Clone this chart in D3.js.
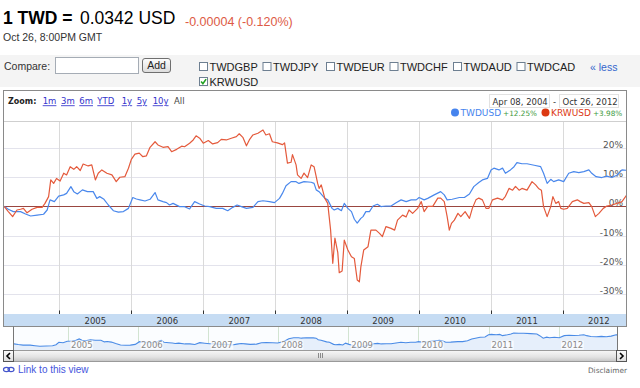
<!DOCTYPE html>
<html><head><meta charset="utf-8">
<script src="https://cdn.jsdelivr.net/npm/d3@7"></script>
<style>
html,body{margin:0;padding:0;background:#fff;}
svg{display:block;}
text{font-family:"Liberation Sans",Arial,sans-serif;}
.v{font-family:"DejaVu Sans",Verdana,sans-serif;}
</style></head><body>
<svg id="c" width="640" height="388"></svg>
<script>
// ---------- data ----------
const pairLabel = "1 TWD =";
const quoteLabel = "0.0342 USD";
const changeLabel = "-0.00004 (-0.120%)";
const asOfLabel = "Oct 26, 8:00PM GMT";
const compareList = ["TWDGBP","TWDJPY","TWDEUR","TWDCHF","TWDAUD","TWDCAD"];
const checkedList = ["KRWUSD"];
const zoomLinks = ["1m","3m","6m","YTD","1y","5y","10y"];
const dateFrom = "Apr 08, 2004", dateTo = "Oct 26, 2012";
const seriesNames = ["TWDUSD","KRWUSD"];
const seriesChange = ["+12.25%","+3.98%"];
const yearTicks = [2005,2006,2007,2008,2009,2010,2011,2012];
const pctTicks = [-30,-20,-10,0,10,20];
const xDomain = [2004.23, 2012.89];

const twdT = [2004.23,2004.29,2004.36,2004.46,2004.53,2004.60,2004.69,2004.78,2004.83,2004.87,2004.93,2004.99,2005.06,2005.10,2005.16,2005.20,2005.25,2005.32,2005.39,2005.47,2005.52,2005.56,2005.62,2005.68,2005.75,2005.82,2005.89,2005.96,2006.02,2006.07,2006.12,2006.19,2006.26,2006.33,2006.37,2006.44,2006.49,2006.53,2006.58,2006.67,2006.74,2006.81,2006.88,2006.95,2007.02,2007.09,2007.18,2007.27,2007.34,2007.41,2007.47,2007.53,2007.60,2007.69,2007.76,2007.83,2007.92,2007.99,2008.06,2008.10,2008.15,2008.22,2008.29,2008.33,2008.40,2008.50,2008.54,2008.57,2008.61,
2008.69,2008.73,2008.79,2008.82,2008.87,2008.92,2008.96,2009.01,2009.06,2009.10,2009.14,2009.19,2009.22,2009.26,2009.31,2009.36,2009.42,2009.47,2009.54,2009.61,2009.68,2009.75,2009.82,2009.89,2009.96,2010.00,2010.07,2010.12,2010.21,2010.30,2010.35,2010.39,2010.46,2010.56,2010.63,2010.70,2010.76,2010.83,2010.88,2010.95,2011.00,2011.04,2011.11,2011.16,2011.20,2011.27,2011.32,2011.36,2011.43,2011.50,2011.60,2011.69,2011.73,2011.78,2011.83,2011.87,2011.94,2012.01,2012.08,2012.15,2012.22,2012.29,2012.36,2012.40,2012.46,2012.54,2012.61,2012.68,2012.75,2012.82,2012.89];
const twdV = [0,-1.0,-1.8,-1.8,-2.6,-3.3,-3.0,-2.7,-1.25,2.2,1.6,3.5,3.9,4.4,6.7,5.0,4.2,5.6,5.0,5.0,2.7,3.3,2.4,0.45,-1.5,-2.0,-1.8,-0.7,3.0,2.5,2.2,1.8,2.4,4.7,2.2,1.6,1.25,0.45,1.0,-0.1,-0.1,-0.9,1.6,0.8,0.1,-0.1,-0.7,-0.7,-1.5,-0.35,0.45,-0.1,-0.7,-0.35,1.6,1.9,1.6,1.25,2.7,4.4,7.0,8.4,8.4,7.8,8.4,8.2,7.8,5.6,5.0,
2.7,2.2,-0.7,-1.25,-0.7,-1.5,1.0,-0.7,-1.8,-4.4,-5.7,-4.1,-3.5,-1.8,-1.8,0.1,0.7,-0.1,0.1,0.1,1.25,2.2,1.6,2.2,2.2,3.0,2.2,2.7,3.9,5.0,3.9,2.2,2.4,3.0,3.0,4.2,6.7,8.1,9.0,9.5,12.4,13.0,12.4,13.0,11.25,12.4,13.5,14.9,14.5,14.5,14.0,13.5,11.25,7.8,9.2,8.4,9.0,8.4,11.25,11.8,11.5,11.8,12.4,11.25,10.1,9.8,10.3,9.8,10.6,12.4,12.25];

const krwT = [2004.23,2004.29,2004.35,2004.41,2004.46,2004.50,2004.55,2004.62,2004.69,2004.76,2004.80,2004.85,2004.88,2004.92,2004.96,2005.01,2005.06,2005.10,2005.15,2005.20,2005.24,2005.29,2005.33,2005.40,2005.45,2005.50,2005.54,2005.59,2005.66,2005.73,2005.79,2005.84,2005.91,2005.96,2006.00,2006.05,2006.11,2006.16,2006.21,2006.26,2006.33,2006.37,2006.44,2006.51,2006.56,2006.63,2006.70,2006.74,2006.81,2006.86,2006.90,2006.95,2007.00,2007.07,2007.13,2007.20,2007.25,2007.32,2007.39,2007.46,2007.50,2007.55,2007.60,2007.64,2007.69,2007.76,2007.83,2007.87,2007.92,2007.96,2008.03,2008.10,2008.13,2008.17,2008.22,2008.24,2008.29,2008.31,2008.36,2008.40,2008.45,2008.50,2008.54,2008.59,2008.61,
2008.64,2008.69,2008.73,2008.77,2008.80,2008.83,2008.87,2008.89,2008.93,2008.96,2009.01,2009.06,2009.10,2009.14,2009.17,2009.19,2009.23,2009.29,2009.33,2009.40,2009.45,2009.49,2009.54,2009.61,2009.66,2009.70,2009.77,2009.82,2009.86,2009.91,2009.98,2010.03,2010.07,2010.12,2010.19,2010.26,2010.30,2010.35,2010.39,2010.42,2010.45,2010.49,2010.54,2010.58,2010.64,2010.70,2010.74,2010.79,2010.83,2010.88,2010.93,2010.97,2011.02,2011.09,2011.16,2011.20,2011.25,2011.30,2011.34,2011.39,2011.43,2011.50,2011.57,2011.62,2011.66,2011.70,2011.73,2011.78,2011.83,2011.86,2011.90,2011.94,2011.97,2012.01,2012.06,2012.13,2012.20,2012.24,2012.29,2012.36,2012.40,2012.45,2012.50,2012.56,2012.61,2012.68,2012.75,2012.82,2012.89];
const krwV = [0,-1.8,-3.5,-1.25,-1.0,-0.7,-2.2,-1.0,-0.35,-0.35,1.0,3.3,9.0,7.8,9.5,8.6,11.3,10.7,13.5,12.6,13.5,12.2,14.4,13.75,14.1,9.0,11.25,12.4,11.25,10.7,8.4,9.9,10.1,12.95,16.0,17.8,18.1,16.9,17.2,20.1,22.0,20.9,20.1,20.3,18.6,19.4,20.5,20.3,21.5,22.6,24.0,23.2,21.5,22.4,21.25,21.7,22.8,22.6,23.2,23.75,24.7,23.5,20.6,22.6,24.3,24.9,26.0,24.3,24.7,22.0,21.6,21.0,21.6,14.7,15.0,17.6,14.1,10.7,9.5,11.3,9.8,14.1,13.5,7.8,6.1,
7.3,2.7,1.0,-8.1,-19.4,-10.8,-15.8,-22.6,-22.0,-11.5,-14.9,-17.2,-17.8,-25.1,-25.7,-20.7,-14.9,-13.75,-8.1,-8.1,-9.2,-10.3,-6.9,-7.5,-8.1,-4.7,-3.0,-3.6,-1.25,-2.4,-0.7,1.6,-1.8,0.0,0.0,2.8,2.8,1.6,-3.5,-8.1,-5.8,-4.7,-2.4,-3.5,-1.8,-4.1,-0.7,2.2,2.8,2.2,-0.7,-0.7,2.2,2.8,2.2,3.4,6.1,5.5,6.8,5.5,6.1,5.5,8.4,7.3,6.1,5.5,-0.1,-3.5,-0.1,3.3,1.0,1.6,-0.7,-1.0,-0.7,1.6,2.2,1.6,1.0,1.25,-0.1,-3.5,-2.4,-0.7,0.1,0.45,1.0,1.6,3.98];

const seriesColors = ["#4684ee","#dc3912"];
const lineColors = ["#4a88ec","#e45a3c"];

// ---------- drawing ----------
const svg = d3.select("#c");
const zip = (T,V) => d3.range(Math.min(T.length,V.length)).map(i => [T[i], V[i]]);
const twd = zip(twdT, twdV), krw = zip(krwT, krwV);

const defs = svg.append("defs");
const g1 = defs.append("linearGradient").attr("id","btn").attr("x1",0).attr("y1",0).attr("x2",0).attr("y2",1);
g1.append("stop").attr("offset","0%").attr("stop-color","#fdfdfd");
g1.append("stop").attr("offset","100%").attr("stop-color","#dcdcdc");
const g2 = defs.append("linearGradient").attr("id","scr").attr("x1",0).attr("y1",0).attr("x2",0).attr("y2",1);
g2.append("stop").attr("offset","0%").attr("stop-color","#f7f7f7");
g2.append("stop").attr("offset","60%").attr("stop-color","#e2e2e2");
g2.append("stop").attr("offset","100%").attr("stop-color","#c4c4c4");
defs.append("clipPath").attr("id","plotClip").append("rect").attr("x",4).attr("y",122).attr("width",622).attr("height",192);
defs.append("clipPath").attr("id","navClip").append("rect").attr("x",14).attr("y",327).attr("width",603).attr("height",23);

// Header
const h = svg.append("text").attr("x",3).attr("y",23.5).attr("font-size",17.5).attr("fill","#000");
h.append("tspan").attr("font-weight","bold").text(pairLabel);
svg.append("text").attr("x",80).attr("y",23.5).attr("font-size",17.5).attr("fill","#000").text(quoteLabel);
svg.append("text").attr("x",185).attr("y",26).attr("font-size",12.5).attr("fill","#dd5a45").text(changeLabel);
svg.append("text").attr("x",3).attr("y",41).attr("font-size",10.5).attr("fill","#333").text(asOfLabel);

// Compare bar
svg.append("rect").attr("x",0).attr("y",55).attr("width",640).attr("height",32).attr("fill","#f4f4f4");
svg.append("text").attr("x",4).attr("y",69.5).attr("font-size",10.5).attr("fill","#333").text("Compare:");
svg.append("rect").attr("x",55.5).attr("y",57.5).attr("width",83).attr("height",16).attr("fill","#fff").attr("stroke","#a5acb5");
svg.append("rect").attr("x",142.5).attr("y",58.5).attr("width",28).attr("height",14).attr("rx",2.5).attr("fill","url(#btn)").attr("stroke","#6f6f6f");
svg.append("text").attr("x",156.5).attr("y",69.3).attr("font-size",10.5).attr("text-anchor","middle").attr("fill","#222").text("Add");

const cb = svg.append("g");
const allCb = compareList.map((n,i)=>({n, x:199.5 + i*63.5, y:62.5, c:false}))
  .concat(checkedList.map((n,i)=>({n, x:199.5 + i*63.5, y:77.5, c:true})));
allCb.forEach(d=>{
  cb.append("rect").attr("x",d.x).attr("y",d.y).attr("width",8).attr("height",8).attr("fill","#fff").attr("stroke","#6d7f91");
  if(d.c) cb.append("path").attr("d",`M${d.x+1.6},${d.y+4} L${d.x+3.4},${d.y+6.2} L${d.x+6.6},${d.y+1.6}`).attr("fill","none").attr("stroke","#21a121").attr("stroke-width",1.6);
  cb.append("text").attr("x",d.x+10).attr("y",d.y+8).attr("font-size",11).attr("fill","#222").text(d.n);
});
svg.append("text").attr("x",590).attr("y",70.5).attr("font-size",10.5).attr("fill","#3366cc").text("\u00ab less");

// Chart frame
svg.append("rect").attr("x",3.5).attr("y",90.5).attr("width",623).attr("height",236).attr("fill","#fff");
// zoom row
svg.append("text").attr("class","v").attr("x",8).attr("y",104.3).attr("font-size",8).attr("font-weight","bold").attr("fill","#222").text("Zoom:");
const zoomX = [42.7,61,79.3,97.3,121.7,136.7,152.7];
zoomLinks.forEach((z,i)=>{
  svg.append("text").attr("class","v").attr("x",zoomX[i]).attr("y",104.3).attr("font-size",8.5).attr("fill","#3333cc").attr("text-decoration","underline").text(z);
});
svg.append("text").attr("class","v").attr("x",174).attr("y",104.3).attr("font-size",8.5).attr("fill","#444").text("All");

// date range boxes
[[dateFrom,489.5,60],[dateTo,559.5,59]].forEach(([t,x,w])=>{
  svg.append("rect").attr("x",x).attr("y",94.5).attr("width",w).attr("height",13).attr("fill","#fff").attr("stroke","#e2e2e2");
  svg.append("text").attr("class","v").attr("x",x+3).attr("y",104.5).attr("font-size",8.5).attr("fill","#333").text(t);
});
svg.append("text").attr("class","v").attr("x",554.5).attr("y",104.5).attr("font-size",8.5).attr("text-anchor","middle").attr("fill","#333").text("-");

// legend
let lx = 455;
seriesNames.forEach((n,i)=>{
  svg.append("circle").attr("cx",lx).attr("cy",112.5).attr("r",4).attr("fill",seriesColors[i]);
  const t = svg.append("text").attr("class","v").attr("x",lx+5.5).attr("y",116.3).attr("font-size",9).attr("fill",seriesColors[i]).text(n);
  const w = t.node().getComputedTextLength();
  const c = svg.append("text").attr("class","v").attr("x",lx+5.5+w+2).attr("y",116.3).attr("font-size",7.3).attr("fill","#3c9a3c").text(seriesChange[i]);
  const w2 = c.node().getComputedTextLength();
  lx = lx + 5.5 + w + 2 + w2 + 8.5;
});

// plot
const x = d3.scaleLinear().domain(xDomain).range([4, 627]);
const y = d3.scaleLinear().domain([-30, 20]).range([294.4, 147.6]);

svg.append("line").attr("x1",4).attr("x2",626).attr("y1",121.5).attr("y2",121.5).attr("stroke","#cfcfcf");
const grid = svg.append("g");
grid.selectAll("line.h").data(pctTicks.filter(d=>d!==0)).join("line")
  .attr("x1",4).attr("x2",626).attr("y1",d=>Math.round(y(d))+0.5).attr("y2",d=>Math.round(y(d))+0.5)
  .attr("stroke","#e3e3ec");
grid.selectAll("line.v").data(yearTicks).join("line")
  .attr("x1",d=>Math.round(x(d))+0.5).attr("x2",d=>Math.round(x(d))+0.5).attr("y1",122).attr("y2",314)
  .attr("stroke","#dadada");

// right axis labels
const ax = svg.append("g").attr("transform","translate(623,0)")
  .call(d3.axisLeft(y).tickValues(pctTicks).tickSize(0).tickPadding(0).tickFormat(d=>d+"%"));
ax.select(".domain").remove();
ax.selectAll("text").attr("class","v").attr("font-size",9).attr("fill","#555").attr("dy","-0.5").attr("font-family",null);

// zero line
svg.append("line").attr("x1",4).attr("x2",626).attr("y1",Math.round(y(0))+0.5).attr("y2",Math.round(y(0))+0.5).attr("stroke","#9a4640").attr("stroke-width",1);

const line = d3.line().x(d=>x(d[0])).y(d=>y(d[1]));
const pg = svg.append("g").attr("clip-path","url(#plotClip)");
pg.append("path").datum(twd).attr("d",line).attr("fill","none").attr("stroke",lineColors[0]).attr("stroke-width",1.2).attr("stroke-linejoin","round");
pg.append("path").datum(krw).attr("d",line).attr("fill","none").attr("stroke",lineColors[1]).attr("stroke-width",1.2).attr("stroke-linejoin","round");

// bottom band with year labels
svg.append("rect").attr("x",4).attr("y",314).attr("width",622).attr("height",12).attr("fill","#c6dcf3");
svg.append("g").selectAll("line").data(yearTicks).join("line")
  .attr("x1",d=>Math.round(x(d))+0.5).attr("x2",d=>Math.round(x(d))+0.5).attr("y1",310.5).attr("y2",314)
  .attr("stroke","#333");
svg.append("g").selectAll("text").data(yearTicks).join("text").attr("class","v")
  .attr("x",d=>x(d+0.5)).attr("y",323.5).attr("text-anchor","middle").attr("font-size",8.5).attr("fill","#333").text(d=>d);

// frame border
svg.append("rect").attr("x",3.5).attr("y",90.5).attr("width",623).attr("height",236).attr("fill","none").attr("stroke","#8a8a8a");

// navigator
const xn = d3.scaleLinear().domain(xDomain).range([14, 621]);
const yn = d3.scaleLinear().domain([-5.7, 14.9]).range([348, 333]);
svg.append("rect").attr("x",14).attr("y",327).attr("width",603).attr("height",23).attr("fill","#fbfdff");
const ng = svg.append("g").attr("clip-path","url(#navClip)");
ng.selectAll("line.g").data(yearTicks).join("line")
  .attr("x1",d=>Math.round(xn(d))+0.5).attr("x2",d=>Math.round(xn(d))+0.5).attr("y1",327).attr("y2",350)
  .attr("stroke","#d2e4d2");
const quarters = d3.range(xDomain[0], xDomain[1], 0.25).map(v=>Math.ceil(v*4)/4).filter(v=>v%1!==0);
ng.selectAll("line.q").data(quarters).join("line")
  .attr("x1",d=>Math.round(xn(d))+0.5).attr("x2",d=>Math.round(xn(d))+0.5).attr("y1",346.5).attr("y2",350)
  .attr("stroke","#c8c8c8");
ng.append("path").datum(twd).attr("d",d3.area().x(d=>xn(d[0])).y0(350).y1(d=>yn(d[1]))).attr("fill","#e6effb");
ng.append("path").datum(twd).attr("d",d3.line().x(d=>xn(d[0])).y(d=>yn(d[1]))).attr("fill","none").attr("stroke","#4a8be6").attr("stroke-width",1.1);
yearTicks.forEach(yv=>{
  const t = ng.append("text").attr("class","v").attr("x",xn(yv)+3).attr("y",347.6).attr("font-size",8.5).attr("fill","#8a8a8a").text(yv);
  const bb = t.node().getBBox();
  ng.insert("rect","text").attr("x",bb.x-0.5).attr("y",bb.y+1).attr("width",bb.width+1).attr("height",bb.height-1).attr("fill","#fff").attr("opacity",0.75);
});
svg.append("line").attr("x1",13.5).attr("x2",13.5).attr("y1",326.5).attr("y2",350).attr("stroke","#777");
svg.append("line").attr("x1",617.5).attr("x2",617.5).attr("y1",326.5).attr("y2",350).attr("stroke","#777");

// scrollbar
svg.append("rect").attr("x",3.5).attr("y",350.5).attr("width",623).attr("height",11).attr("fill","url(#scr)").attr("stroke","#9a9a9a");
[[3.5,"M10,353 L7,356 L10,359"],[616.5,"M620,353 L623,356 L620,359"]].forEach(([bx,p])=>{
  svg.append("rect").attr("x",bx).attr("y",350.5).attr("width",10).attr("height",11).attr("fill","url(#btn)").attr("stroke","#555");
  svg.append("path").attr("d",p).attr("fill","none").attr("stroke","#000").attr("stroke-width",1.6);
});
[318.5,320.5,322.5].forEach(gx=>svg.append("line").attr("x1",gx).attr("x2",gx).attr("y1",353).attr("y2",358).attr("stroke","#8a8a8a"));

// footer
const link = svg.append("g").attr("stroke","#4455cc").attr("fill","none").attr("stroke-width",1.2);
link.append("ellipse").attr("cx",6.5).attr("cy",369.5).attr("rx",3).attr("ry",2.2);
link.append("ellipse").attr("cx",11).attr("cy",369.5).attr("rx",3).attr("ry",2.2);
svg.append("text").attr("x",18).attr("y",372.5).attr("font-size",10).attr("fill","#4455dd").text("Link to this view");
svg.append("text").attr("class","v").attr("x",627).attr("y",372.5).attr("text-anchor","end").attr("font-size",7.4).attr("fill","#666").text("Disclaimer");
</script>
</body></html>
